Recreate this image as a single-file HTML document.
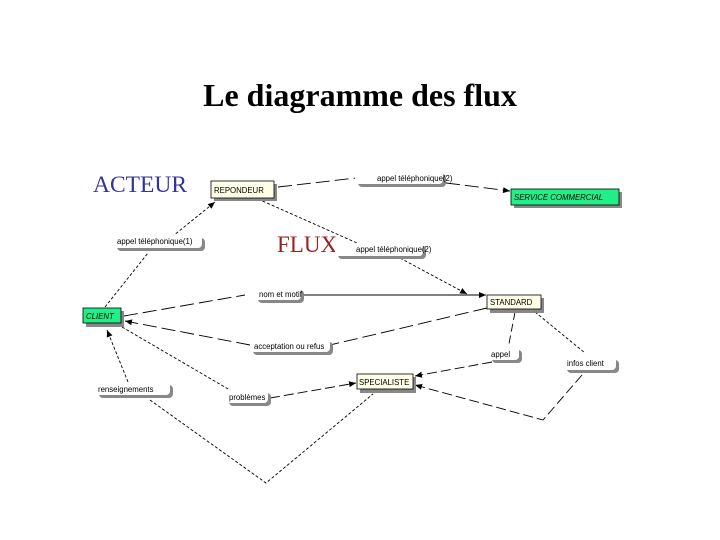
<!DOCTYPE html>
<html><head><meta charset="utf-8"><style>
html,body{margin:0;padding:0;background:#fff;width:720px;height:540px;overflow:hidden}
svg{display:block}
.s{font-family:"Liberation Sans",sans-serif;font-size:7.8px;fill:#000}
</style></head><body>
<svg width="720" height="540" viewBox="0 0 720 540" xmlns="http://www.w3.org/2000/svg">
<defs>
<marker id="a" markerWidth="8" markerHeight="8" refX="7" refY="4" orient="auto" markerUnits="userSpaceOnUse"><path d="M0,1 L7,4 L0,7 z" fill="#000"/></marker>
</defs>
<text x="360" y="106" text-anchor="middle" font-family="Liberation Serif,serif" font-size="32" font-weight="bold">Le diagramme des flux</text>
<text x="93" y="192" font-family="Liberation Serif,serif" font-size="23.5" fill="#333399">ACTEUR</text>
<text x="277" y="252" font-family="Liberation Serif,serif" font-size="23" fill="#992222">FLUX</text>

<g stroke="#000" fill="none" stroke-width="0.9">
<line x1="278" y1="187" x2="356" y2="178" stroke-dasharray="14,5"/>
<line x1="446" y1="183" x2="510" y2="191" stroke-dasharray="14,5" marker-end="url(#a)"/>
<line x1="168" y1="240" x2="215" y2="202" stroke-dasharray="3,2" marker-end="url(#a)"/>
<line x1="105" y1="307" x2="148" y2="253" stroke-dasharray="3,2"/>
<line x1="258" y1="199" x2="357" y2="243" stroke-dasharray="3,2"/>
<line x1="400" y1="258" x2="467" y2="294" stroke-dasharray="3,2" marker-end="url(#a)"/>
<line x1="124" y1="316" x2="245" y2="295" stroke-dasharray="14,5"/>
<line x1="303" y1="295" x2="486" y2="295" marker-end="url(#a)"/>
<line x1="487" y1="308" x2="330" y2="345" stroke-dasharray="14,5"/>
<line x1="250" y1="345" x2="125" y2="321" stroke-dasharray="14,5" marker-end="url(#a)"/>
<line x1="122" y1="327" x2="235" y2="393" stroke-dasharray="3,2"/>
<line x1="270" y1="398" x2="356" y2="383" stroke-dasharray="10,4" marker-end="url(#a)"/>
<line x1="515" y1="312" x2="508" y2="349" stroke-dasharray="8,4"/>
<line x1="492" y1="362" x2="415" y2="376" stroke-dasharray="10,4" marker-end="url(#a)"/>
<line x1="535" y1="312" x2="585" y2="353" stroke-dasharray="3,2"/>
<polyline points="582,375 543,420 415,385" stroke-dasharray="10,4" marker-end="url(#a)"/>
<line x1="128" y1="382" x2="107" y2="330" stroke-dasharray="3,2" marker-end="url(#a)"/>
<polyline points="150,400 266,483 373,394" stroke-dasharray="3,2"/>
</g>

<g fill="#888">
<rect x="358" y="174" width="88" height="13" rx="4"/>
<rect x="117" y="238" width="88" height="13" rx="4"/>
<rect x="338" y="246" width="88" height="13" rx="4"/>
<rect x="258" y="290" width="46" height="13" rx="4"/>
<rect x="253" y="342" width="80" height="13" rx="4"/>
<rect x="492" y="350" width="30" height="13" rx="4"/>
<rect x="567" y="360" width="52" height="13" rx="4"/>
<rect x="99" y="385" width="74" height="13" rx="4"/>
<rect x="229" y="393" width="42" height="13" rx="4"/>
</g>
<g fill="#fff">
<rect x="355" y="171" width="88" height="13" rx="4"/>
<rect x="114" y="235" width="88" height="13" rx="4"/>
<rect x="335" y="243" width="88" height="13" rx="4"/>
<rect x="255" y="287" width="46" height="13" rx="4"/>
<rect x="250" y="339" width="80" height="13" rx="4"/>
<rect x="489" y="347" width="30" height="13" rx="4"/>
<rect x="564" y="357" width="52" height="13" rx="4"/>
<rect x="96" y="382" width="74" height="13" rx="4"/>
<rect x="226" y="390" width="42" height="13" rx="4"/>
</g>
<text class="s" x="377" y="181">appel téléphonique(2)</text>
<text class="s" x="117" y="244">appel téléphonique(1)</text>
<text class="s" x="356" y="252">appel téléphonique(2)</text>
<text class="s" x="259" y="297">nom et motif</text>
<text class="s" x="254" y="349">acceptation ou refus</text>
<text class="s" x="491" y="357">appel</text>
<text class="s" x="567" y="366">infos client</text>
<text class="s" x="98" y="392">renseignements</text>
<text class="s" x="229" y="400">problèmes</text>

<g>
<rect x="214" y="184" width="63" height="17" fill="#888"/>
<rect x="211" y="181" width="63" height="17" fill="#ffffe8" stroke="#000" stroke-width="0.8"/>
<text class="s" x="214" y="193">REPONDEUR</text>

<rect x="514" y="192" width="108" height="16" fill="#888"/>
<rect x="511" y="189" width="108" height="16" fill="#22ee88" stroke="#000" stroke-width="0.8"/>
<text class="s" x="514" y="200" font-style="italic">SERVICE COMMERCIAL</text>

<rect x="86" y="311" width="38" height="16" fill="#888"/>
<rect x="83" y="308" width="38" height="15" fill="#22ee88" stroke="#000" stroke-width="0.8"/>
<text class="s" x="86" y="319" font-style="italic">CLIENT</text>

<rect x="490" y="298" width="54" height="15" fill="#888"/>
<rect x="487" y="295" width="54" height="14" fill="#ffffe8" stroke="#000" stroke-width="0.8"/>
<text class="s" x="490" y="305">STANDARD</text>

<rect x="360" y="377" width="56" height="16" fill="#888"/>
<rect x="357" y="374" width="56" height="15" fill="#ffffe8" stroke="#000" stroke-width="0.8"/>
<text class="s" x="359" y="385">SPECIALISTE</text>
</g>
</svg>
</body></html>
